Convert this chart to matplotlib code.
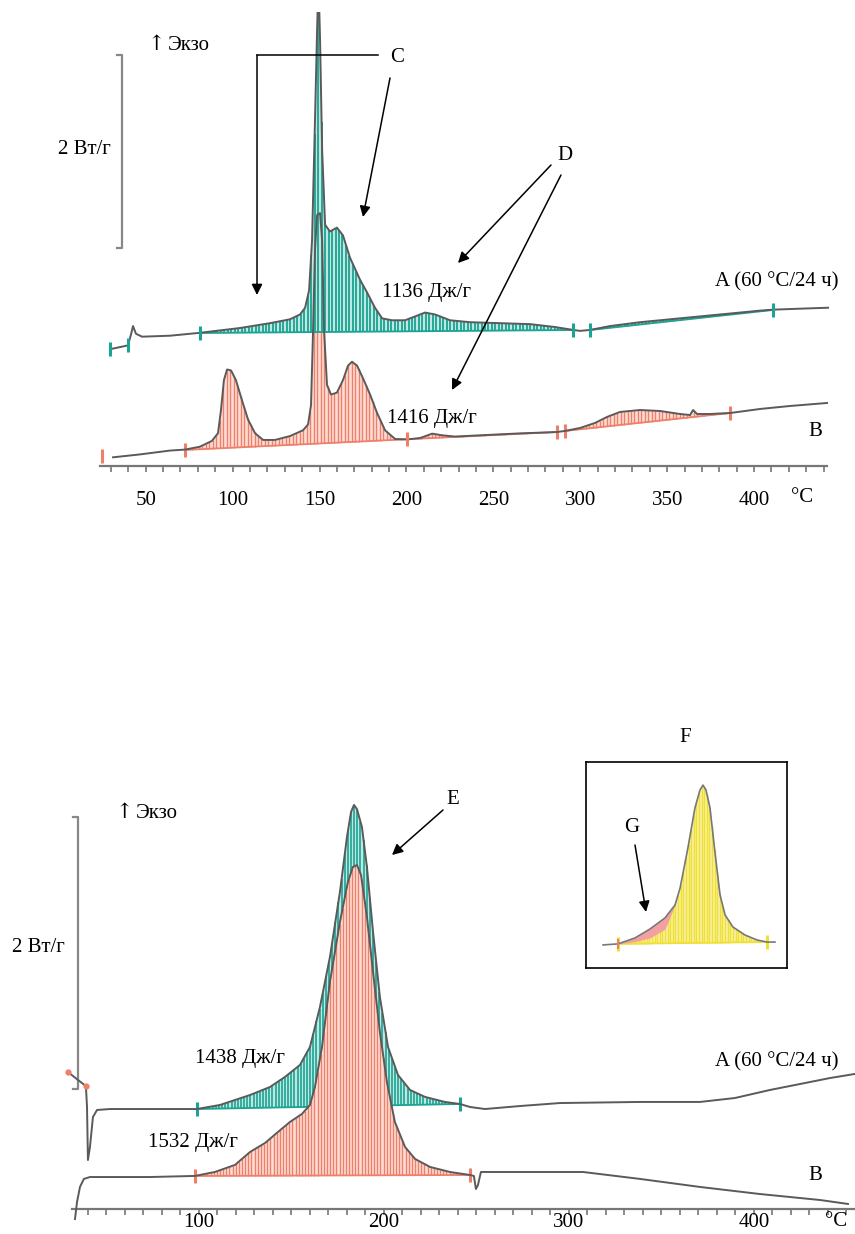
import numpy as np
import matplotlib.pyplot as plt
from matplotlib.lines import Line2D
from matplotlib.patches import FancyArrowPatch

plt.rcParams['font.family'] = ['Liberation Serif', 'DejaVu Serif']

# верхний график: T (°C) и тепловой поток (Вт/г, со сдвигом)
top_a_t = [29.5, 39.8, 41.5, 42.7, 44.4, 47.9, 64.0, 81.2, 104.3, 121.5, 133.0, 138.8, 141.7, 144.0,
           145.7, 147.4, 148.6, 149.4, 150.3, 151.5, 153.2, 156.0, 160.0, 163.5, 167.5, 173.3, 177.3,
           181.9, 186.0, 191.7, 199.2, 205.0, 210.7, 216.5, 225.1, 236.6, 253.9, 271.1, 285.5, 295.9,
           299.9, 305.7, 317.2, 334.4, 357.4, 380.5, 403.5, 411.0, 426.5, 442.6]
top_a_w = [1.21, 1.25, 1.36, 1.45, 1.37, 1.34, 1.35, 1.38, 1.43, 1.48, 1.52, 1.57, 1.64, 1.82,
           2.34, 3.59, 4.52, 5.04, 4.42, 3.28, 2.50, 2.43, 2.47, 2.39, 2.16, 1.93, 1.80,
           1.64, 1.53, 1.51, 1.51, 1.55, 1.59, 1.57, 1.51, 1.49, 1.48, 1.47, 1.44, 1.41,
           1.40, 1.41, 1.45, 1.49, 1.53, 1.57, 1.61, 1.62, 1.63, 1.64]
top_b_t = [31.2, 46.7, 64.0, 72.6, 81.2, 88.1, 91.6, 93.3, 95.0, 96.8, 99.1, 101.9, 105.4, 108.9,
           112.9, 117.5, 124.4, 133.0, 140.5, 143.4, 145.1, 146.3, 147.4, 148.6, 150.3, 151.5, 152.6,
           154.3, 156.6, 160.0, 163.5, 166.4, 168.7, 171.6, 175.0, 179.1, 183.1, 187.7, 193.5, 200.4,
           207.9, 214.8, 220.6, 228.0, 242.4, 265.4, 286.6, 291.2, 299.9, 308.5, 315.4, 322.9, 334.4,
           345.9, 357.4, 363.2, 364.9, 367.2, 374.7, 386.2, 403.5, 420.8, 442.0]
top_b_w = [0.09, 0.12, 0.16, 0.17, 0.20, 0.26, 0.34, 0.58, 0.89, 1.00, 0.99, 0.89, 0.68, 0.48,
           0.34, 0.27, 0.27, 0.31, 0.37, 0.43, 0.63, 1.41, 2.24, 2.60, 2.62, 2.34, 1.41,
           0.84, 0.74, 0.76, 0.89, 1.04, 1.08, 1.04, 0.91, 0.74, 0.55, 0.37, 0.28, 0.275,
           0.29, 0.335, 0.318, 0.305, 0.318, 0.338, 0.352, 0.363, 0.394, 0.446, 0.508, 0.560, 0.580,
           0.570, 0.539, 0.528, 0.580, 0.539, 0.539, 0.549, 0.591, 0.622, 0.653]
# пределы интегрирования (t0, w0, t1, w1)
top_a_areas = [(81.2, 1.378, 295.9, 1.409), (305.7, 1.409, 411.0, 1.617)]
top_b_areas = [(72.6, 0.166, 286.6, 0.352), (291.2, 0.363, 386.2, 0.549)]
top_a_marks = [29.5, 39.8]
top_b_marks = [25.0, 200.4]
top_ticks = [50, 100, 150, 200, 250, 300, 350, 400]

# нижний график
bot_a_t = [29.2, 34.6, 38.9, 39.5, 40.0, 41.1, 42.7, 44.9, 51.9, 73.5, 98.9, 111.4, 127.6, 138.4,
           146.5, 154.6, 160.0, 165.4, 170.8, 176.2, 180.0, 182.2, 183.8, 185.4, 188.1, 190.8, 194.1,
           197.8, 202.2, 207.6, 214.1, 222.2, 233.0, 241.1, 246.5, 254.6, 273.5, 295.1, 338.4, 370.8,
           389.7, 408.6, 424.9, 441.1, 454.6]
bot_a_w = [1.007, 0.949, 0.904, 0.750, 0.360, 0.456, 0.676, 0.728, 0.735, 0.735, 0.735, 0.765, 0.838,
           0.897, 0.971, 1.059, 1.191, 1.485, 1.853, 2.331, 2.735, 2.919, 2.971, 2.941, 2.809, 2.515,
           2.037, 1.559, 1.191, 0.985, 0.875, 0.824, 0.787, 0.772, 0.750, 0.735, 0.757, 0.779, 0.787,
           0.787, 0.816, 0.875, 0.919, 0.963, 0.993]
bot_b_t = [33.0, 34.1, 35.7, 37.8, 41.1, 73.5, 97.8, 108.6, 119.5, 127.6, 135.7, 142.7, 149.2, 155.7,
           160.0, 162.7, 166.5, 170.8, 176.2, 180.5, 183.2, 185.4, 187.6, 190.8, 194.1, 197.8, 201.6,
           205.9, 211.4, 216.8, 224.9, 235.7, 246.5, 248.6, 249.7, 250.8, 252.4, 273.5, 307.6, 338.4,
           370.8, 403.2, 435.7, 450.8]
bot_b_w = [-0.074, 0.051, 0.162, 0.221, 0.235, 0.235, 0.243, 0.272, 0.324, 0.419, 0.485, 0.566, 0.640,
           0.699, 0.765, 0.897, 1.191, 1.669, 2.110, 2.404, 2.515, 2.529, 2.456, 2.147, 1.743, 1.301,
           0.934, 0.640, 0.456, 0.368, 0.309, 0.272, 0.250, 0.243, 0.147, 0.176, 0.272, 0.272, 0.272,
           0.221, 0.162, 0.110, 0.066, 0.037]
bot_a_area = (98.9, 0.735, 241.1, 0.772)
bot_b_area = (97.8, 0.243, 246.5, 0.250)
bot_red_marks = [29.2, 38.9]
bot_ticks = [100, 200, 300, 400]

# вставка F (условные единицы)
ins_x = [8.5, 15.9, 24.4, 31.8, 39.3, 44.3, 46.8, 50.7, 54.2, 56.7, 58.2, 59.7, 61.7, 64.2, 66.7,
         69.2, 73.1, 79.1, 85.1, 90.0, 94.0]
ins_y = [11.2, 11.7, 14.6, 18.9, 24.3, 30.6, 38.8, 58.3, 77.7, 86.4, 88.8, 86.4, 77.7, 55.8, 35.4,
         25.7, 19.9, 16.0, 13.6, 12.6, 12.6]
ins_g_x = [15.9, 24.4, 31.8, 39.3, 44.3]
ins_g_y = [11.7, 12.8, 14.6, 18.9, 30.6]
ins_area = (15.9, 11.7, 90.0, 12.6)

SCALE = 2  # Вт/г

TEAL = '#1ba393'
TEAL_BG = '#bfe8e2'
RED = '#f07f6a'
RED_BG = '#fdded6'
GREY = '#5a5a5a'

W_PX, H_PX = 855, 1234


def fx(x):
    return x / W_PX


def fy(y):
    return 1 - y / H_PX


def hatch_area(ax, t, w, area, c, bg, step, z, lw=1.0):
    t0, w0, t1, w1 = area
    tt = np.linspace(t0, t1, 500)
    ax.fill_between(tt, np.interp(tt, [t0, t1], [w0, w1]), np.interp(tt, t, w),
                    color=bg, lw=0, zorder=z)
    ts = np.arange(t0, t1, step)
    ax.vlines(ts, np.interp(ts, [t0, t1], [w0, w1]), np.interp(ts, t, w), colors=c, lw=lw, zorder=z)
    ax.plot([t0, t1], [w0, w1], color=c, lw=1.3, zorder=z)
    ax.plot([t0, t1], [w0, w1], ls='none', marker='|', ms=10, mew=2.2, color=c, zorder=z + 3)


def style_axis(ax, ticks, lo, hi, mlo, mhi, pad):
    for s in ['left', 'right', 'top']:
        ax.spines[s].set_visible(False)
    ax.spines['bottom'].set_color('#777777')
    ax.spines['bottom'].set_linewidth(1.6)
    ax.spines['bottom'].set_bounds(lo, hi)
    ax.set_yticks([])
    ax.set_xticks(ticks)
    ax.set_xticks(np.arange(mlo, mhi + 1, 10), minor=True)
    ax.tick_params(axis='x', which='both', direction='out', length=4, width=1.2, color='#777777')
    ax.tick_params(axis='x', which='major', labelsize=15, pad=pad)


def arrow(fig, p0, p1):
    fig.add_artist(FancyArrowPatch((fx(p0[0]), fy(p0[1])), (fx(p1[0]), fy(p1[1])),
                                   transform=fig.transFigure, arrowstyle='-|>', mutation_scale=16,
                                   color='black', lw=1.1, shrinkA=0, shrinkB=0))


def label(fig, x, y, s, ha='left', size=15):
    fig.text(fx(x), fy(y), s, ha=ha, va='center', fontsize=size)


def exo(fig, x, y):
    # стрелка отдельным глифом, крупнее, как в оригинале
    fig.text(fx(x + 4), fy(y), '↑', ha='center', va='center', fontsize=15, family='DejaVu Serif')
    label(fig, x + 16, y, 'Экзо')


fig = plt.figure(figsize=(8.55, 12.34), dpi=100)

# ---------- верх ----------
ax1 = fig.add_axes([fx(100), fy(466), fx(830) - fx(100), fy(12.4) - fy(466)])
ax1.set_xlim(23.7, 443.7)
ax1.set_ylim(0, 4.7)
for area in top_b_areas:
    hatch_area(ax1, top_b_t, top_b_w, area, RED, RED_BG, 2.0, 2)
for area in top_a_areas:
    hatch_area(ax1, top_a_t, top_a_w, area, TEAL, TEAL_BG, 2.0, 3, lw=1.3)
ax1.plot(top_b_t, top_b_w, color=GREY, lw=1.4, zorder=5)
ax1.plot(top_a_t, top_a_w, color=GREY, lw=1.4, zorder=5)
ax1.plot(top_a_marks, np.interp(top_a_marks, top_a_t, top_a_w), ls='none', marker='|',
         ms=10, mew=2.2, color=TEAL, zorder=6)
ax1.plot(top_b_marks, np.interp(top_b_marks, top_b_t, top_b_w) + [0.01, 0], ls='none', marker='|',
         ms=10, mew=2.2, color=RED, zorder=6)
sx, sy = 36.4, 2.26
ax1.plot([sx - 2.9, sx, sx, sx - 2.9], [sy, sy, sy + SCALE, sy + SCALE], color='#888888', lw=1.6)
style_axis(ax1, top_ticks, 23.7, 442, 30, 440, 14)

exo(fig, 152, 45)
label(fig, 58, 150, '2 Вт/г')
label(fig, 397, 57, 'C', ha='center')
label(fig, 565, 155, 'D', ha='center')
label(fig, 382, 293, '1136 Дж/г')
label(fig, 387, 418, '1416 Дж/г')
label(fig, 838, 282, 'A (60 °C/24 ч)', ha='right')
label(fig, 815, 432, 'B', ha='center')
label(fig, 802, 497, '°C', ha='center')

fig.add_artist(Line2D([fx(378), fx(257)], [fy(55), fy(55)], color='black', lw=1.1,
                      transform=fig.transFigure))
arrow(fig, (257, 55), (257, 295))
arrow(fig, (390, 78), (363, 217))
arrow(fig, (551, 165), (458, 263))
arrow(fig, (561, 175), (452, 390))

# ---------- низ ----------
B0 = 1209  # ось T нижнего графика, px
ax2 = fig.add_axes([fx(60), fy(B0 + 16.3), fx(855) - fx(60), fy(B0 - 435.2) - fy(B0 + 16.3)])
ax2.set_xlim(24.9, 454.6)
ax2.set_ylim(-0.12, 3.2)
ax2.spines['bottom'].set_position(('data', 0))
hatch_area(ax2, bot_a_t, bot_a_w, bot_a_area, TEAL, TEAL_BG, 1.7, 2, lw=1.2)
hatch_area(ax2, bot_b_t, bot_b_w, bot_b_area, RED, RED_BG, 1.7, 3)
ax2.plot(bot_a_t, bot_a_w, color=GREY, lw=1.4, zorder=6)
ax2.plot(bot_b_t, bot_b_w, color=GREY, lw=1.4, zorder=6)
ax2.plot(bot_red_marks, np.interp(bot_red_marks, bot_a_t, bot_a_w), ls='none', marker='o',
         ms=3.5, color=RED, zorder=7)
sx, sy = 34.6, 0.882
ax2.plot([sx - 2.7, sx, sx, sx - 2.7], [sy, sy, sy + SCALE, sy + SCALE], color='#888888', lw=1.6)
style_axis(ax2, bot_ticks, 31.4, 454.6, 40, 450, -1)

exo(fig, 120, 813)
label(fig, 12, 948, '2 Вт/г')
label(fig, 195, 1058, '1438 Дж/г')
label(fig, 148, 1143, '1532 Дж/г')
label(fig, 453, 800, 'E', ha='center')
label(fig, 838, 1062, 'A (60 °C/24 ч)', ha='right')
label(fig, 815, 1175, 'B', ha='center')
label(fig, 836, 1222, '°C', ha='center')
label(fig, 685, 737, 'F', ha='center')
label(fig, 632, 828, 'G', ha='center')
arrow(fig, (443, 810), (392, 855))
arrow(fig, (635, 845), (646, 912))

# ---------- вставка F ----------
ax3 = fig.add_axes([fx(586), fy(968), fx(787) - fx(586), fy(762) - fy(968)])
ax3.set_xlim(0, 100)
ax3.set_ylim(0, 100)
ax3.set_xticks([])
ax3.set_yticks([])
for s in ax3.spines.values():
    s.set_linewidth(1.2)
hatch_area(ax3, ins_x, ins_y, ins_area, '#efe033', '#f8f1a6', 1.3, 2)
ax3.fill_between(ins_g_x, ins_g_y, np.interp(ins_g_x, ins_x, ins_y), color='#f2a0a0', lw=0, zorder=4)
ax3.plot(ins_x, ins_y, color='#777777', lw=1.2, zorder=6)
ax3.plot([ins_area[0]], [ins_area[1]], ls='none', marker='|', ms=7, mew=1.5, color=RED, zorder=7)

fig.savefig('out.png', dpi=100)
